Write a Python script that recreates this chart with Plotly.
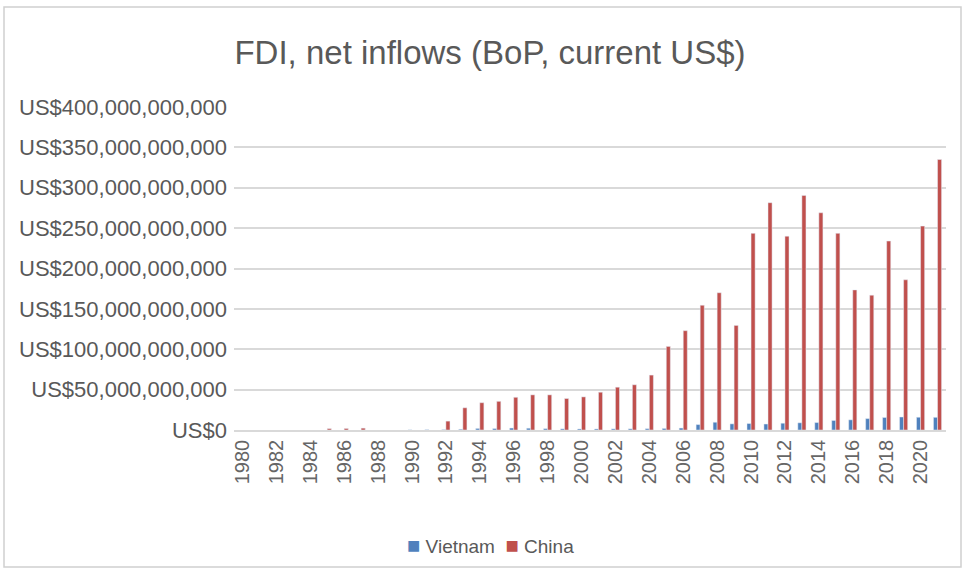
import plotly.graph_objects as go

# Foreign direct investment, net inflows (BoP, current US$), in billions
years = list(range(1980, 2022))

vietnam_bn = [None] * 10 + [
    0.18, 0.38, 0.47, 0.93, 1.94, 1.78, 2.4, 2.22, 1.67, 1.41,      # 1990-1999
    1.3, 1.3, 1.4, 1.45, 1.61, 1.95, 2.4, 6.7, 9.6, 7.6,           # 2000-2009
    8.0, 7.4, 8.4, 8.9, 9.2, 11.8, 12.6, 14.1, 15.5, 16.1,         # 2010-2019
    15.8, 15.7,                                                    # 2020-2021
]

china_bn = [None] * 5 + [1.7, 1.9, 2.3] + [None] * 4 + [
    11.0, 27.5, 33.8, 35.5, 40.5, 43.5, 43.5, 39.0,                # 1992-1999
    41.0, 46.8, 53.0, 56.0, 68.0, 103.5, 123.0, 154.5, 170.0, 129.5,  # 2000-2009
    243.5, 281.5, 240.0, 290.5, 269.0, 243.5, 173.5, 167.0, 234.0, 186.0,  # 2010-2019
    252.5, 335.0,                                                  # 2020-2021
]

y_ticks = [i * 50e9 for i in range(9)]
y_ticktext = ["US$" + f"{int(v):,}" for v in y_ticks]

series_colors = {"Vietnam": "#4F81BD", "China": "#C0504D"}


def to_usd(values):
    return [None if v is None else v * 1e9 for v in values]


vietnam = to_usd(vietnam_bn)
china = to_usd(china_bn)

fig = go.Figure()
fig.add_trace(go.Bar(x=years, y=vietnam, name="Vietnam",
                     marker_color=series_colors["Vietnam"], showlegend=False))
fig.add_trace(go.Bar(x=years, y=china, name="China",
                     marker_color=series_colors["China"], showlegend=False))

W, H = 966, 573
L, R, T, B = 234, 20, 107, 143
pw, ph = W - L - R, H - T - B


def px_x(x):
    return (x - L) / pw


def px_y(y):
    return (H - B - y) / ph


legend_html = "  ".join(
    f"<span style='color:{c};font-size:22px'>■</span> {name}"
    for name, c in series_colors.items()
)

fig.update_layout(
    width=W, height=H,
    margin=dict(l=L, r=R, t=T, b=B),
    paper_bgcolor="white", plot_bgcolor="white",
    barmode="group", bargap=0.52, bargroupgap=0,
    font=dict(family="Liberation Sans, Arial, sans-serif", color="#595959"),
    title=dict(
        text="FDI, net inflows (BoP, current US$)",
        x=490 / W, xanchor="center",
        y=1 - 52 / H, yanchor="middle",
        font=dict(family="Liberation Sans, sans-serif", size=33, color="#595959"),
    ),
    xaxis=dict(
        range=[1979.5, 2021.5],
        tickmode="array",
        tickvals=years[::2],
        ticktext=[str(y) for y in years[::2]],
        tickangle=-90,
        tickfont=dict(size=20, color="#666666"),
        showgrid=False,
        showline=True, linecolor="#d9d9d9", linewidth=1.5,
        ticks="",
        zeroline=False,
    ),
    yaxis=dict(
        range=[0, 400e9],
        tickmode="array",
        tickvals=y_ticks,
        ticktext=y_ticktext,
        tickfont=dict(size=22, color="#595959"),
        showgrid=True, gridcolor="#d9d9d9", gridwidth=1.5,
        zeroline=False,
        ticks="",
        ticklabelstandoff=6,
    ),
    annotations=[
        dict(text=legend_html, xref="paper", yref="paper",
             x=px_x(490), y=px_y(545), xanchor="center", yanchor="middle",
             showarrow=False, font=dict(size=19, color="#595959")),
    ],
    shapes=[
        dict(type="rect", xref="paper", yref="paper",
             x0=px_x(4), x1=px_x(961), y0=px_y(567), y1=px_y(7),
             line=dict(color="#d0d0d0", width=1.5), fillcolor="rgba(0,0,0,0)",
             layer="below"),
    ],
)

fig.write_html("out.html")
